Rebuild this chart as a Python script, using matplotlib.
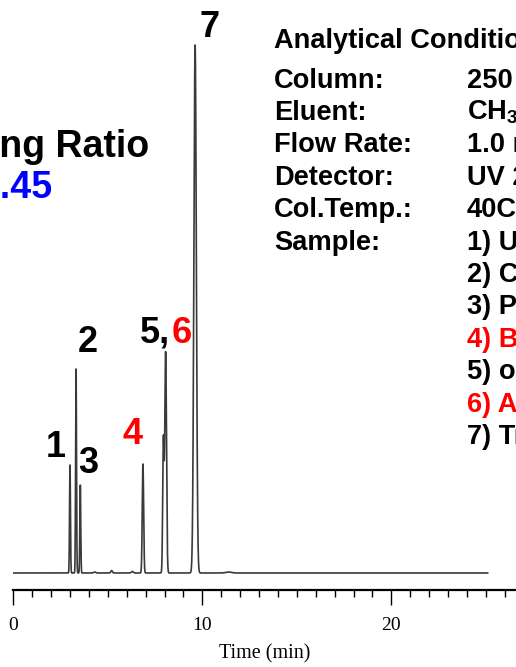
import numpy as np
import matplotlib
matplotlib.use("Agg")
import matplotlib.pyplot as plt

plt.rcParams["font.family"] = ["Liberation Sans", "DejaVu Sans"]
plt.rcParams["mathtext.fontset"] = "custom"
plt.rcParams["mathtext.rm"] = "Liberation Sans:bold"
plt.rcParams["mathtext.bf"] = "Liberation Sans:bold"
plt.rcParams["mathtext.default"] = "rm"

# Tanaka column test: main peaks (retention time in min, height, width sigma in min)
peak_names = ["1", "2", "3", "4", "5", "6", "7"]
peak_rt = [3.00, 3.32, 3.545, 6.86, 7.94, 8.06, 9.62]
peak_height = [108, 204, 88, 109, 131, 221, 528]
peak_sigma = [0.024, 0.024, 0.024, 0.036, 0.035, 0.045, 0.065]

# small baseline disturbances
minor_rt = [4.3, 5.2, 6.3, 11.4]
minor_height = [1.0, 2.5, 1.5, 1.0]
minor_sigma = [0.05, 0.04, 0.05, 0.15]

run_end = 25.1
x_ticks_major = [0, 10, 20]

condition_labels = ["Column:", "Eluent:", "Flow Rate:", "Detector:", "Col.Temp.:", "Sample:"]
condition_values = ["250 x 4.6 mm I.D.", r"CH$_3$OH/H$_2$O = 80/20", "1.0 mL/min", "UV 254nm", "40C"]
sample_list = ["1) Uracil", "2) Caffeine", "3) Phenol", "4) Butylbenzene",
               "5) o-Terphenyl", "6) Amylbenzene", "7) Triphenylene"]
sample_colors = ["black", "black", "black", "red", "black", "red", "black"]

W, H = 516, 667
fig = plt.figure(figsize=(W / 100, H / 100), dpi=100)
x0_px, axis_px = 13.3, 590
ax = fig.add_axes([x0_px / W, (H - axis_px) / H, (W - x0_px) / W, axis_px / H])
ax.set_xlim(0, (W - x0_px) / 18.9)
ax.set_ylim(-17, 573)

t = np.arange(0, run_end, 0.002)
signal = np.zeros_like(t)
for rt, h, s in zip(peak_rt + minor_rt, peak_height + minor_height, peak_sigma + minor_sigma):
    signal += h * np.exp(-0.5 * ((t - rt) / s) ** 2)
ax.plot(t, signal, color="#3a3a3a", lw=1.2, solid_joinstyle="round")

for side in ["left", "right", "top"]:
    ax.spines[side].set_visible(False)
ax.spines["bottom"].set_linewidth(1.6)
ax.set_yticks([])
ax.set_xticks(x_ticks_major)
ax.set_xticks(np.arange(0, 27, 1), minor=True)
ax.tick_params(axis="x", which="major", direction="out", length=10.5, width=1.0, pad=9,
               labelsize=14, labelfontfamily="Liberation Serif", color="black")
ax.tick_params(axis="x", which="minor", direction="out", length=5, width=1.0, color="black")
ax.set_xlabel("Time (min)", family="Liberation Serif", fontsize=14.5, labelpad=7)

# peak numbers
lab = dict(fontsize=26, fontweight="bold", va="baseline")
ax.text(10.41, 536, "7", ha="center", color="black", **lab)
ax.text(3.92, 221, "2", ha="center", color="black", **lab)
ax.text(2.24, 116, "1", ha="center", color="black", **lab)
ax.text(3.95, 100, "3", ha="center", color="black", **lab)
ax.text(6.33, 129, "4", ha="center", color="red", **lab)
ax.text(8.29, 230, "5,", ha="right", color="black", **lab)
ax.text(8.36, 230, "6", ha="left", color="red", **lab)


def ftext(x, y, s, **kw):
    fig.text(x / W, 1 - y / H, s, va="baseline", fontweight="bold", **kw)


# ratio text
ftext(149, 157, "Hydrogen Bonding Ratio", ha="right", fontsize=27, color="black")
ftext(53, 198, "0.45", ha="right", fontsize=27, color="#0000ff")

# conditions block
fs = 19.6
ftext(274, 48.5, "Analytical Conditions", ha="left", fontsize=fs, color="black")
row0, step = 87.5, 32.4
for i, s in enumerate(condition_labels):
    ftext(274, row0 + i * step, s, ha="left", fontsize=fs, color="black")
for i, s in enumerate(condition_values):
    ftext(467, row0 + i * step, s, ha="left", fontsize=fs, color="black")
for i, (s, c) in enumerate(zip(sample_list, sample_colors)):
    ftext(467, row0 + (5 + i) * step, s, ha="left", fontsize=fs, color=c)

fig.savefig("out.png", dpi=100)
